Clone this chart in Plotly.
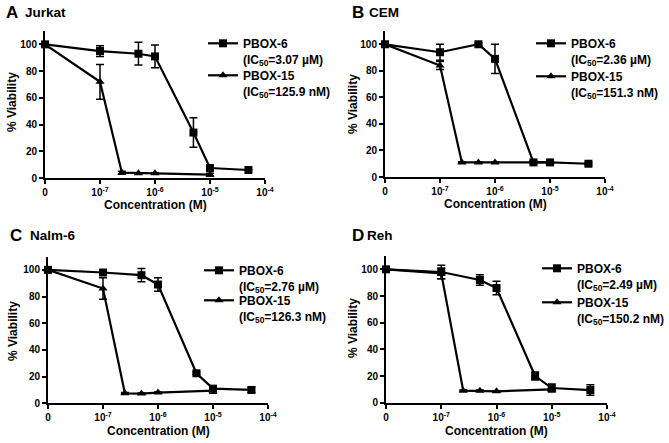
import plotly.graph_objects as go

W, H = 669, 443

# ---------------- data ----------------
ZERO_POS = 1e-8  # axis position used for the "0" (vehicle) concentration
conc_pbox6 = [0, 1e-7, 5e-7, 1e-6, 5e-6, 1e-5, 5e-5]
conc_pbox15 = [0, 1e-7, 2.5e-7, 5e-7, 1e-6, 1e-5]

panel_letters = ["A", "B", "C", "D"]
cell_lines = ["Jurkat", "CEM", "Nalm-6", "Reh"]

pbox6_vals = {
    "Jurkat": [100, 95, 93, 91, 34, 7.5, 6],
    "CEM":    [100, 94, 100, 89, 11, 11, 10],
    "Nalm-6": [100, 98, 96, 89, 22.5, 11, 10],
    "Reh":    [100, 98, 92, 86, 20, 11, 9.5],
}
pbox6_err = {
    "Jurkat": [0, 4, 8.5, 8.5, 11, 2, 0],
    "CEM":    [0, 6, 1, 11, 1, 1, 1],
    "Nalm-6": [0, 2, 5, 5, 1, 2, 2],
    "Reh":    [0, 5, 4, 5, 3, 3, 4],
}
pbox15_vals = {
    "Jurkat": [100, 72, 4, 3.5, 3.5, 2.5],
    "CEM":    [100, 84, 11, 11, 11, 11],
    "Nalm-6": [100, 86, 7.5, 7.3, 8, 9.5],
    "Reh":    [100, 97, 9, 9, 8.5, 10],
}
pbox15_err = {
    "Jurkat": [0, 13, 1, 0.5, 0.5, 1],
    "CEM":    [0, 3, 0.5, 0.5, 0.5, 0.5],
    "Nalm-6": [0, 8, 0.5, 0.5, 0.5, 2],
    "Reh":    [0, 4, 0.5, 0.5, 0.5, 0.5],
}
ic50_pbox6 = {"Jurkat": "3.07 µM", "CEM": "2.36 µM", "Nalm-6": "2.76 µM", "Reh": "2.49 µM"}
ic50_pbox15 = {"Jurkat": "125.9 nM", "CEM": "151.3 nM", "Nalm-6": "126.3 nM", "Reh": "150.2 nM"}

x_tickvals = [1e-8, 1e-7, 1e-6, 1e-5, 1e-4]
x_ticktext = ["0", "10<sup>-7</sup>", "10<sup>-6</sup>", "10<sup>-5</sup>", "10<sup>-4</sup>"]
y_tickvals = [0, 20, 40, 60, 80, 100]
x_title = "Concentration (M)"
y_title = "% Viability"

# ---------------- layout geometry (pixels) ----------------
# (x_left, x_right, y_top(at 110), y_bottom(at 0))
boxes = [
    (45, 265, 31, 178),
    (385, 605, 31, 177),
    (48, 268, 256.5, 403.3),
    (386, 607, 256, 402.7),
]
# legend text left, first-line centre for PBOX-6 and PBOX-15 entries
legend_pos = [((242, 43), (242, 75)), ((570, 43), (570, 76)),
              ((238, 270), (238, 300)), ((576, 268), (576, 302))]
LEG_DX, LEG_DY = 39, 14
title_pos = [(4, 12, 23), (350, 12, 367), (8, 235, 28), (350, 235, 365)]
xtitle_y = [205, 204, 431, 431]
ytitle_pos = [(12, 102), (353, 104), (13, 331), (353, 328)]

FONT = "Liberation Sans, Arial, sans-serif"


def xpos(c):
    return [ZERO_POS if v == 0 else v for v in c]


def bfont(size):
    return dict(size=size, family=FONT, color="black", weight="bold")


fig = go.Figure()
layout = dict(
    template="none",
    width=W, height=H, margin=dict(l=0, r=0, t=0, b=0, pad=0, autoexpand=False),
    paper_bgcolor="white", plot_bgcolor="white",
    font=bfont(12), showlegend=True,
)
annotations = []

for i, cl in enumerate(cell_lines):
    sfx = "" if i == 0 else str(i + 1)
    xa, ya = "x" + sfx, "y" + sfx
    lg6 = "legend" + ("" if i == 0 else str(2 * i + 1))
    lg15 = "legend" + str(2 * i + 2)
    x0, x1, yt, yb = boxes[i]

    fig.add_trace(go.Scatter(
        x=xpos(conc_pbox6), y=pbox6_vals[cl], xaxis=xa, yaxis=ya, legend=lg6,
        name="PBOX-6<br>(IC<sub>50</sub>=" + ic50_pbox6[cl] + ")",
        mode="lines+markers", cliponaxis=False,
        line=dict(color="black", width=2.2),
        marker=dict(symbol="square", size=8, color="black"),
        error_y=dict(type="data", array=pbox6_err[cl], color="black", thickness=1.5, width=4),
    ))
    fig.add_trace(go.Scatter(
        x=xpos(conc_pbox15), y=pbox15_vals[cl], xaxis=xa, yaxis=ya, legend=lg15,
        name="PBOX-15<br>(IC<sub>50</sub>=" + ic50_pbox15[cl] + ")",
        mode="lines+markers", cliponaxis=False,
        line=dict(color="black", width=2.2),
        marker=dict(symbol="triangle-up", size=8, color="black"),
        error_y=dict(type="data", array=pbox15_err[cl], color="black", thickness=1.5, width=4),
    ))

    layout["xaxis" + sfx] = dict(
        type="log", range=[-8, -4], domain=[x0 / W, x1 / W], anchor=ya, automargin=False,
        tickvals=x_tickvals, ticktext=x_ticktext, ticks="outside", ticklen=4,
        tickwidth=1.5, tickcolor="black", showline=True, linecolor="black", linewidth=2,
        showgrid=False, zeroline=False, tickfont=bfont(10),
    )
    layout["yaxis" + sfx] = dict(
        range=[0, 110], domain=[1 - yb / H, 1 - yt / H], anchor=xa, automargin=False,
        tickvals=y_tickvals, ticks="outside", ticklen=4, tickwidth=1.5, tickcolor="black",
        showline=True, linecolor="black", linewidth=2, showgrid=False, zeroline=False,
        tickfont=bfont(10),
    )
    for lg, (tx, ty) in ((lg6, legend_pos[i][0]), (lg15, legend_pos[i][1])):
        layout[lg] = dict(
            x=(tx - LEG_DX) / W, y=1 - (ty - LEG_DY) / H, xanchor="left", yanchor="top",
            xref="paper", yref="paper", bgcolor="rgba(0,0,0,0)", borderwidth=0,
            valign="top", font=bfont(12), itemwidth=30,
        )
    tx, ty, tx2 = title_pos[i]
    annotations.append(dict(
        text=panel_letters[i], x=tx / W, y=1 - ty / H, xref="paper", yref="paper",
        xanchor="left", yanchor="middle", showarrow=False, font=bfont(17),
    ))
    annotations.append(dict(
        text=cl, x=tx2 / W, y=1 - ty / H, xref="paper", yref="paper",
        xanchor="left", yanchor="middle", showarrow=False, font=bfont(13.5),
    ))
    annotations.append(dict(
        text=x_title, x=(x0 + x1) / 2 / W, y=1 - xtitle_y[i] / H, xref="paper", yref="paper",
        xanchor="center", yanchor="middle", showarrow=False, font=bfont(12),
    ))
    yx, yy = ytitle_pos[i]
    annotations.append(dict(
        text=y_title, x=yx / W, y=1 - yy / H, xref="paper", yref="paper", textangle=-90,
        xanchor="center", yanchor="middle", showarrow=False, font=bfont(12),
    ))

layout["annotations"] = annotations
fig.update_layout(**layout)
fig.write_html("out.html", config={"displayModeBar": False},
               post_script="document.body.style.margin='0';")
